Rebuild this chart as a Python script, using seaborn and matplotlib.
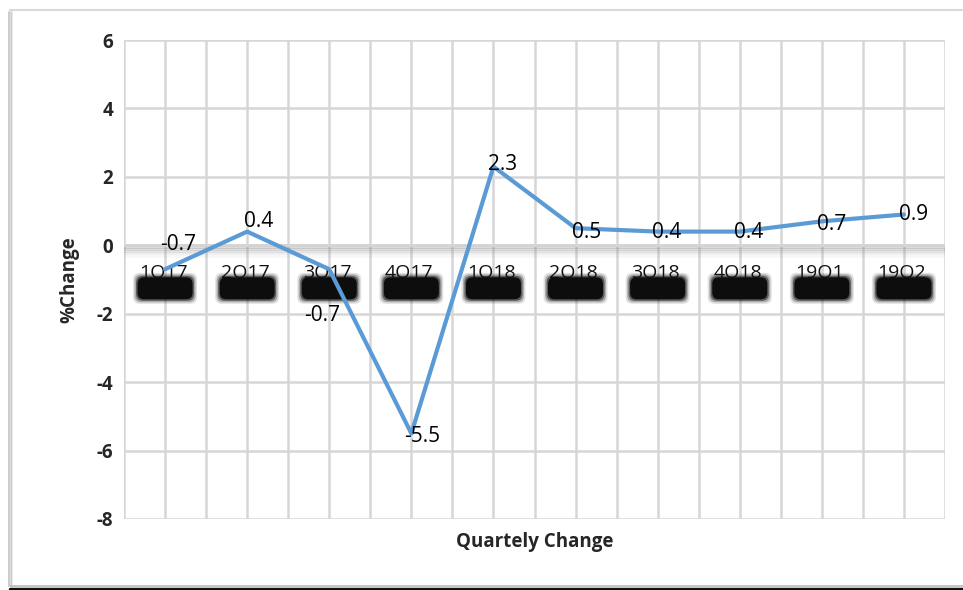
import matplotlib
matplotlib.use("Agg")
import matplotlib.pyplot as plt
import seaborn as sns
import pandas as pd
import numpy as np
from matplotlib.patches import FancyBboxPatch
from matplotlib.lines import Line2D

quarters = ["1Q17", "2Q17", "3Q17", "4Q17", "1Q18", "2Q18", "3Q18", "4Q18", "19Q1", "19Q2"]
pct_change = [-0.7, 0.4, -0.7, -5.5, 2.3, 0.5, 0.4, 0.4, 0.7, 0.9]
label_offsets = [(13, 25), (11, 10), (-7, -46), (11, -3), (9, 2), (11, -4), (9, -1), (9, -1), (10, -3), (10, 0)]
y_ticks = [-8, -6, -4, -2, 0, 2, 4, 6]

sns.set_theme(style="white")
plt.rcParams["font.family"] = ["Open Sans", "DejaVu Sans"]
plt.rcParams["axes.unicode_minus"] = False

df = pd.DataFrame({"idx": np.arange(len(quarters)), "quarter": quarters, "value": pct_change})

fig = plt.figure(figsize=(9.63, 5.90), dpi=100)
W, H = 963, 590
ax = fig.add_axes([124 / W, 1 - 519 / H, (945 - 124) / W, (519 - 40) / H])

# outer frame
fig.add_artist(Line2D([10 / W, 962 / W], [1 - 10 / H, 1 - 10 / H], transform=fig.transFigure, color="#d9d9d9", lw=1.5))
for dx, a in [(9, 0.5), (10.5, 0.35), (12, 0.2)]:
    fig.add_artist(Line2D([dx / W, dx / W], [1 - 586 / H, 1 - 12 / H], transform=fig.transFigure, color="#888888", lw=1.2, alpha=a))
fig.add_artist(Line2D([10 / W, 1], [1 - 588.5 / H, 1 - 588.5 / H], transform=fig.transFigure, color="#111111", lw=2.5))
fig.add_artist(Line2D([10 / W, 1], [1 - 585.5 / H, 1 - 585.5 / H], transform=fig.transFigure, color="#bbbbbb", lw=1.2))

ax.set_xlim(-0.5, len(quarters) - 0.5)
ax.set_ylim(-8, 6)
ax.set_yticks(y_ticks)
ax.set_yticklabels([str(t) for t in y_ticks], fontdict={"fontweight": "bold", "fontsize": 13.5})
ax.set_xticks(np.arange(-0.5, len(quarters), 0.5))
ax.set_xticklabels([])
ax.tick_params(axis="x", length=0)
ax.tick_params(axis="y", length=0, pad=8)
ax.grid(True, color="#d6d6d6", lw=1.8)
for s in ax.spines.values():
    s.set_visible(False)

# zero axis line with shadow
for k, a in enumerate([0.30, 0.24, 0.18, 0.12, 0.06]):
    ax.axhline(-0.06 - k * 0.06, color="#888888", lw=2.2, alpha=a, zorder=1)
ax.axhline(0, color="#d4d4d4", lw=2, zorder=1.5)

# category labels with blurred dark boxes
px_x = 82.1  # pixels per category
px_y = 34.2  # pixels per unit
bw, bh = 55 / px_x, 22 / px_y
cy = -43 / px_y
for i, q in enumerate(quarters):
    for grow, a in [(9, 0.12), (6, 0.25), (3, 0.5), (0, 1.0)]:
        w = bw + grow / px_x
        h = bh + grow / px_y
        ax.add_patch(FancyBboxPatch((i - w / 2, cy - h / 2), w, h,
                                    boxstyle="round,pad=0,rounding_size=0.08",
                                    mutation_aspect=px_x / px_y,
                                    fc="#0d0d0d", ec="none", alpha=a, zorder=2))
    ax.annotate(q, xy=(i, 0), xytext=(-2, -28), textcoords="offset pixels",
                ha="center", va="center", fontsize=14, color="#111111", zorder=3)

sns.lineplot(data=df, x="idx", y="value", ax=ax, color="#5b9bd5", lw=3, zorder=4)

for i, (v, (ox, oy)) in enumerate(zip(pct_change, label_offsets)):
    ax.annotate(f"{v:g}", xy=(i, v), xytext=(ox, oy), textcoords="offset pixels",
                ha="center", va="center", fontsize=15, color="black", zorder=5)

ax.set_xlabel("Quartely Change", fontsize=13.5, fontweight="bold", labelpad=6)
ax.set_ylabel("%Change", fontsize=13.5, fontweight="bold", labelpad=12)

fig.savefig("out.png", dpi=100)
